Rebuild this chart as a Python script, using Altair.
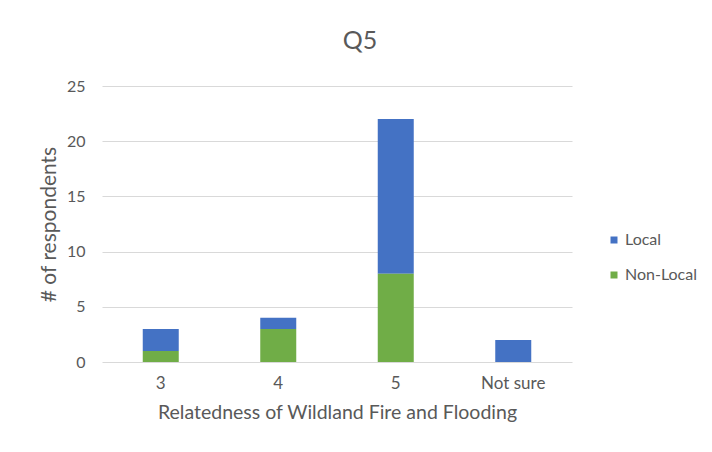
import altair as alt
import pandas as pd

categories = ["3", "4", "5", "Not sure"]
local_vals = [2, 1, 14, 2]
nonlocal_vals = [1, 3, 8, 0]
series = ["Local", "Non-Local"]
colors = ["#4472C4", "#70AD47"]

rows = []
for c, l, n in zip(categories, local_vals, nonlocal_vals):
    rows.append({"cat": c, "series": "Local", "value": l, "ord": 1})
    rows.append({"cat": c, "series": "Non-Local", "value": n, "ord": 0})
df = pd.DataFrame(rows)

FONT = "Lato"
GRAY = "#595959"

chart = alt.Chart(df).mark_bar(size=36).encode(
    x=alt.X("cat:N", sort=categories,
            axis=alt.Axis(title="Relatedness of Wildland Fire and Flooding", labelAngle=0,
                          ticks=False, domain=False, labelPadding=13, titlePadding=12,
                          labelFontSize=17, titleFontSize=19.5)),
    y=alt.Y("value:Q", stack="zero", scale=alt.Scale(domain=[0, 25]),
            axis=alt.Axis(title="# of respondents", values=[0, 5, 10, 15, 20, 25],
                          ticks=False, domain=False, labelPadding=17, titlePadding=7,
                          labelFontSize=16, titleFontSize=21, gridColor="#D9D9D9")),
    color=alt.Color("series:N", scale=alt.Scale(domain=series, range=colors),
                    legend=alt.Legend(title=None, orient="none", legendX=504, legendY=146,
                                      symbolType="square", symbolSize=49, rowPadding=19,
                                      labelFontSize=16, labelOffset=3)),
    order=alt.Order("ord:Q", sort="ascending"),
).properties(
    width=470, height=276,
    title=alt.Title("Q5", fontSize=25, fontWeight="normal", color=GRAY, font=FONT,
                    offset=24, dx=23),
    padding={"left": 94, "top": 78, "right": 130, "bottom": 80},
).configure(
    font=FONT,
    autosize=alt.AutoSizeParams(type="none"),
).configure_axis(
    labelColor=GRAY, titleColor=GRAY, labelFont=FONT, titleFont=FONT, titleFontWeight="normal",
).configure_legend(
    labelColor=GRAY, labelFont=FONT,
).configure_view(stroke=None)

chart.save("out.html", embed_options={"renderer": "svg", "actions": False})
